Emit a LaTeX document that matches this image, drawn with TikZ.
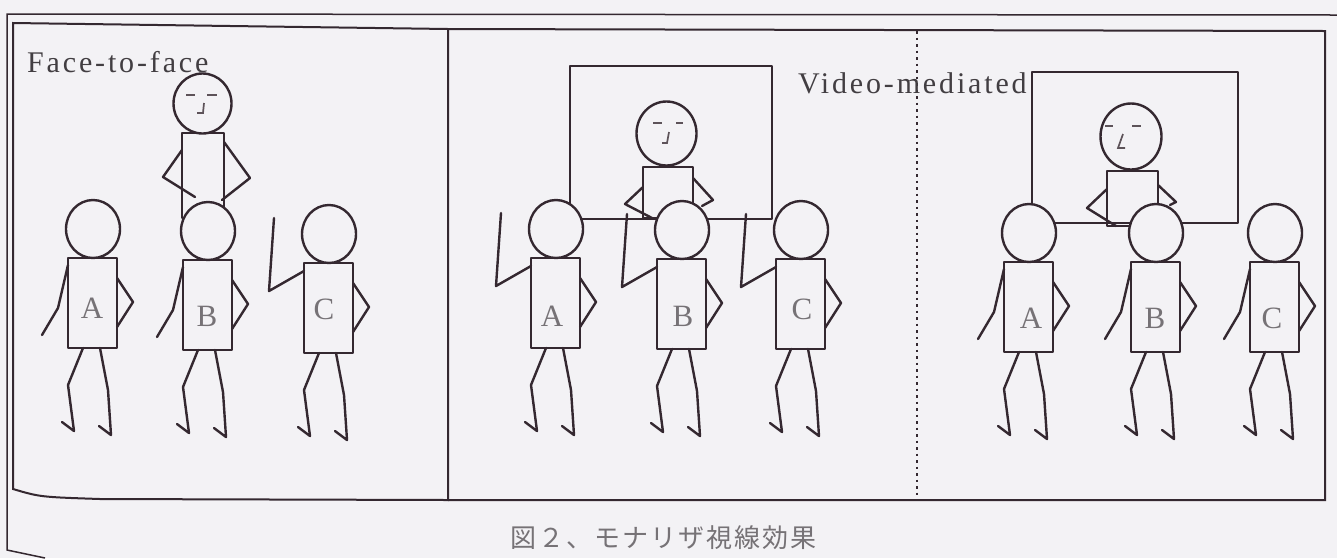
\documentclass[tikz,border=0pt]{standalone}
\usepackage{fontspec}
\setmainfont{Liberation Serif}
\newfontfamily\tagfont[LetterSpace=9.5]{Liberation Serif}
\newfontfamily\capfont[LetterSpace=8]{Noto Sans CJK JP}
\definecolor{paper}{RGB}{243,242,245}
\definecolor{ink}{RGB}{52,40,48}
\definecolor{tagink}{RGB}{66,62,66}
\definecolor{letterink}{RGB}{118,114,118}
\tikzset{
  fig/.style={draw=ink, line width=2.4pt, line join=round, line cap=round},
  face/.style={draw=ink!80, line width=1.7pt},
  frame/.style={draw=ink, line width=2pt},
  letter/.style={text=letterink, font=\fontsize{31}{33}\selectfont, inner sep=0pt},
  tag/.style={text=tagink, font=\tagfont\fontsize{30}{32}\selectfont, inner sep=0pt, anchor=base west},
  % seated walker: body top-left corner at the pic origin
  pics/walker/.style={code={
    \draw[fig] (0,0) rectangle (49,90);
    \draw[fig] (49,20) -- (65,44) -- (49,69);
    \draw[fig] (15,90) -- (0,127) -- (6,173) -- (-6,164);
    \draw[fig] (32,90) -- (40,132) -- (43,177) -- (31,168);
    \draw[fig, fill=paper] (25,-29) ellipse [x radius=27, y radius=29];
  }},
  pics/arm down/.style={code={\draw[fig] (0,7) -- (-10,50) -- (-26,77);}},
  pics/arm up/.style={code={\draw[fig] (0,8) -- (-35,28) -- (-30,-45);}},
}
\begin{document}
\begin{tikzpicture}[x=1pt, y=-1pt]
\useasboundingbox (0,0) rectangle (1337,558);
\fill[paper] (0,0) rectangle (1337,558);

% sheet edges
\draw[frame, line width=1.5pt] (1337,15) -- (7,14) -- (7,550) -- (45,558);
% left panel
\draw[frame] (13,23) -- (448,29) -- (448,500) -- (100,499) .. controls (40,497) .. (13,489) -- cycle;
% middle and right panels
\draw[frame] (448,29) -- (1325,31) -- (1325,500) -- (448,500);
\draw[draw=ink, line width=2pt, dash pattern=on 2.5pt off 4pt] (917,31) -- (917,496);

% standing person, face-to-face
\draw[fig] (182,133) rectangle (224,218);
\draw[fig] (182,150) -- (163,177) -- (195,197);
\draw[fig] (224,142) -- (250,178) -- (222,200);
\draw[fig, fill=paper] (202.5,103.5) ellipse [x radius=29, y radius=30];
\draw[face] (186,95) -- (195,95) (207,95) -- (217,95);
\draw[face] (204,103) -- (203,113) -- (197,113);

% screen with remote person, video panel 1
\draw[fig] (570,66) rectangle (772,219);
\draw[fig] (643,167) rectangle (693,218);
\draw[fig] (643,187) -- (625,204) -- (652,218);
\draw[fig] (693,178) -- (713,200) -- (702,206);
\draw[fig] (666.5,133.5) ellipse [x radius=30, y radius=32];
\draw[face] (653,123) -- (662,123) (676,123) -- (683,123);
\draw[face] (669,132) -- (667,143) -- (662,143);

% screen with remote person, video panel 2
\draw[fig] (1032,72) rectangle (1238,223);
\draw[fig] (1107,171) rectangle (1158,226);
\draw[fig] (1107,189) -- (1087,208) -- (1116,226);
\draw[fig] (1158,185) -- (1176,202) -- (1170,205);
\draw[fig] (1131,136.5) ellipse [x radius=30.5, y radius=33];
\draw[face] (1105,126) -- (1113,126) (1132,126) -- (1141,126);
\draw[face] (1123,134) -- (1118,148) -- (1125,148);

% viewers A, B, C in each panel
\pic at (68,258) {walker};   \pic at (68,258) {arm down};
\pic at (183,260) {walker};  \pic at (183,260) {arm down};
\pic at (304,263) {walker};  \pic at (304,263) {arm up};

\pic at (531,258) {walker};  \pic at (531,258) {arm up};
\pic at (657,259) {walker};  \pic at (657,259) {arm up};
\pic at (776,259) {walker};  \pic at (776,259) {arm up};

\pic at (1004,262) {walker}; \pic at (1004,262) {arm down};
\pic at (1131,262) {walker}; \pic at (1131,262) {arm down};
\pic at (1250,262) {walker}; \pic at (1250,262) {arm down};

\node[letter] (fA) at (92,308) {A};
\node[letter] (fB) at (207,316) {B};
\node[letter] (fC) at (324,309) {C};
\node[letter] (vA) at (552,316) {A};
\node[letter] (vB) at (683,316) {B};
\node[letter] (vC) at (802,309) {C};
\node[letter] (wA) at (1031,318) {A};
\node[letter] (wB) at (1155,318) {B};
\node[letter] (wC) at (1272,318) {C};

% panel titles
\node[tag] (ftf) at (27,72) {Face-to-face};
\node[tag] (vm) at (798,93) {Video-mediated};

% caption
\node[text=letterink, font=\capfont\fontsize{26}{28}\selectfont, inner sep=0pt, anchor=west] (cap) at (510,538) {図２、モナリザ視線効果};
\end{tikzpicture}
\end{document}
